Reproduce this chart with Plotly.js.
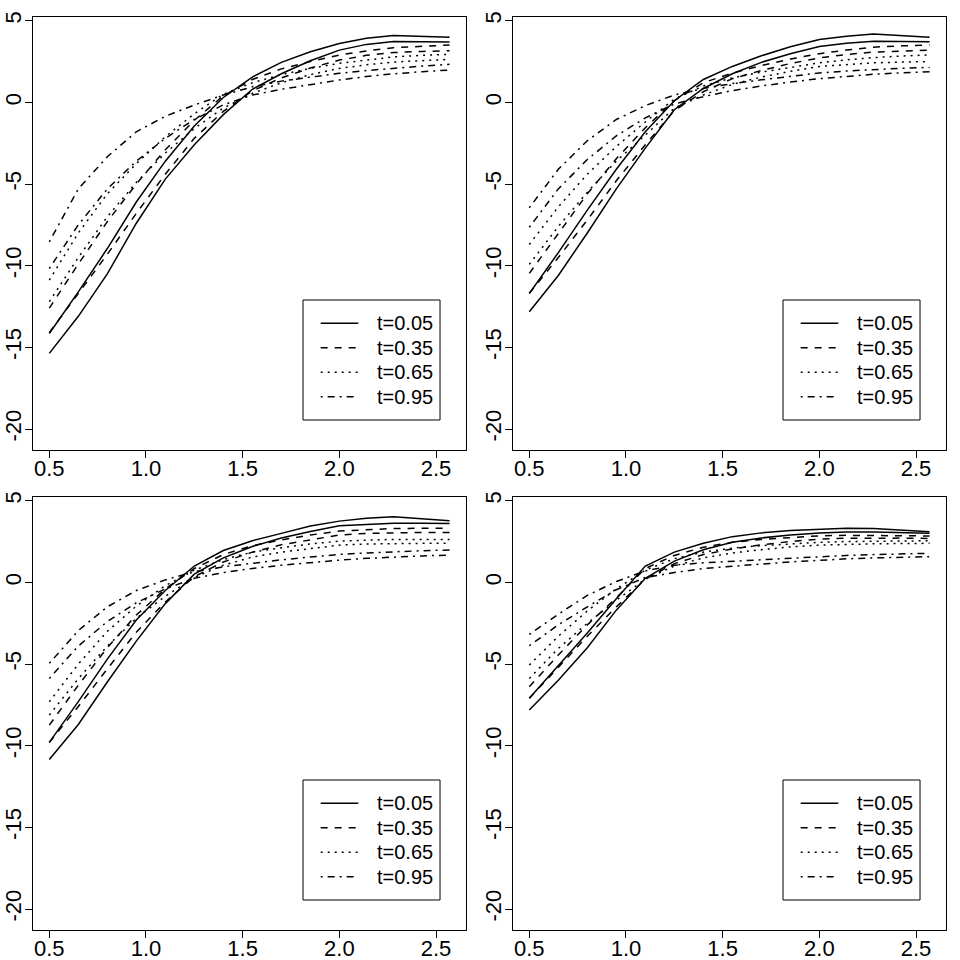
<!DOCTYPE html>
<html>
<head>
<meta charset="utf-8">
<script src="https://cdn.plot.ly/plotly-3.0.1.min.js"></script>
<style>
  body { margin: 0; background: white; }
  #myDiv { width: 960px; height: 960px; }
</style>
</head>
<body>
<div id="myDiv"></div>
<script>
// x grid shared by every curve
var xv = [0.5, 0.65, 0.8, 0.95, 1.1, 1.25, 1.4, 1.55, 1.7, 1.85, 2.0, 2.14, 2.28, 2.43, 2.57];

var tNames = ["t=0.05", "t=0.35", "t=0.65", "t=0.95"];
var xTicks = [0.5, 1.0, 1.5, 2.0, 2.5];
var xTickText = ["0.5", "1.0", "1.5", "2.0", "2.5"];
var yTicks = [-20, -15, -10, -5, 0, 5];
var yTickText = ["-20", "-15", "-10", "-5", "0", "5"];

// panel 1 (top left): a = first fit, b = second fit
var p1a05 = [-14.15, -11.6, -8.95, -6.1, -3.6, -1.45, 0.3, 1.55, 2.45, 3.1, 3.61, 3.93, 4.1, 4.02, 3.98];
var p1b05 = [-15.37, -13.1, -10.5, -7.4, -4.7, -2.6, -0.75, 0.8, 1.75, 2.55, 3.2, 3.55, 3.72, 3.72, 3.69];
var p1a35 = [-12.6, -9.9, -7.3, -5.0, -2.9, -1.1, 0.4, 1.4, 2.05, 2.5, 2.9, 3.15, 3.35, 3.45, 3.51];
var p1b35 = [-14.1, -11.7, -9.3, -6.8, -4.4, -2.2, -0.55, 0.7, 1.5, 2.1, 2.59, 2.88, 3.05, 3.12, 3.16];
var p1a65 = [-10.88, -8.0, -5.6, -3.75, -2.1, -0.7, 0.5, 1.2, 1.7, 2.08, 2.39, 2.6, 2.78, 2.88, 2.94];
var p1b65 = [-12.2, -9.5, -7.0, -4.9, -3.1, -1.6, -0.35, 0.55, 1.2, 1.7, 2.08, 2.3, 2.47, 2.57, 2.63];
var p1a95 = [-8.54, -5.3, -3.33, -1.8, -0.85, -0.16, 0.45, 0.95, 1.3, 1.55, 1.78, 1.95, 2.1, 2.22, 2.33];
var p1b95 = [-10.17, -7.5, -5.3, -3.6, -2.2, -1.05, -0.15, 0.45, 0.8, 1.1, 1.37, 1.58, 1.75, 1.88, 1.98];

// panel 2 (top right)
var p2a05 = [-11.7, -9.2, -6.6, -4.1, -1.8, 0.1, 1.4, 2.2, 2.85, 3.4, 3.85, 4.05, 4.18, 4.08, 3.98];
var p2b05 = [-12.82, -10.6, -8.0, -5.3, -2.8, -0.45, 0.85, 1.75, 2.45, 2.98, 3.42, 3.62, 3.74, 3.73, 3.71];
var p2a35 = [-10.47, -8.0, -5.6, -3.45, -1.55, 0.1, 1.2, 1.8, 2.25, 2.65, 2.98, 3.2, 3.38, 3.46, 3.51];
var p2b35 = [-11.69, -9.5, -7.2, -4.8, -2.6, -0.5, 0.65, 1.45, 1.95, 2.38, 2.72, 2.93, 3.08, 3.16, 3.2];
var p2a65 = [-8.7, -6.4, -4.4, -2.7, -1.2, 0.2, 1.0, 1.5, 1.85, 2.15, 2.42, 2.6, 2.74, 2.84, 2.9];
var p2b65 = [-9.92, -7.6, -5.5, -3.6, -2.0, -0.35, 0.45, 1.1, 1.55, 1.9, 2.2, 2.33, 2.42, 2.47, 2.49];
var p2a95 = [-6.45, -4.1, -2.35, -1.05, -0.2, 0.45, 0.85, 1.15, 1.38, 1.6, 1.8, 1.92, 2.02, 2.09, 2.14];
var p2b95 = [-7.65, -5.3, -3.5, -2.05, -0.95, -0.1, 0.35, 0.72, 1.0, 1.25, 1.45, 1.6, 1.72, 1.81, 1.88];

// panel 3 (bottom left)
var p3a05 = [-9.8, -7.3, -4.7, -2.3, -0.5, 1.0, 1.95, 2.55, 3.0, 3.45, 3.75, 3.92, 4.02, 3.88, 3.77];
var p3b05 = [-10.85, -8.7, -6.1, -3.6, -1.3, 0.5, 1.5, 2.2, 2.72, 3.12, 3.47, 3.56, 3.62, 3.62, 3.61];
var p3a35 = [-8.74, -6.3, -4.0, -2.0, -0.4, 0.85, 1.7, 2.25, 2.6, 2.9, 3.14, 3.24, 3.3, 3.31, 3.31];
var p3b35 = [-9.8, -7.6, -5.3, -3.05, -1.2, 0.35, 1.25, 1.85, 2.3, 2.62, 2.9, 3.0, 3.05, 3.06, 3.06];
var p3a65 = [-7.31, -5.0, -3.0, -1.45, -0.2, 0.75, 1.4, 1.85, 2.12, 2.35, 2.53, 2.6, 2.63, 2.63, 2.63];
var p3b65 = [-8.12, -5.9, -3.9, -2.2, -0.85, 0.3, 1.05, 1.55, 1.85, 2.08, 2.28, 2.35, 2.38, 2.39, 2.39];
var p3a95 = [-4.96, -2.95, -1.5, -0.5, 0.15, 0.65, 0.95, 1.18, 1.38, 1.55, 1.71, 1.8, 1.88, 1.94, 1.98];
var p3b95 = [-5.88, -3.9, -2.4, -1.25, -0.4, 0.25, 0.6, 0.85, 1.05, 1.22, 1.36, 1.47, 1.56, 1.62, 1.67];

// panel 4 (bottom right)
var p4a05 = [-7.1, -5.1, -3.1, -1.0, 1.0, 1.85, 2.4, 2.8, 3.03, 3.17, 3.26, 3.31, 3.3, 3.2, 3.1];
var p4b05 = [-7.82, -6.0, -4.0, -1.7, 0.25, 1.3, 2.0, 2.45, 2.72, 2.9, 3.03, 3.08, 3.08, 3.04, 3.0];
var p4a35 = [-6.39, -4.45, -2.6, -0.95, 0.85, 1.65, 2.15, 2.45, 2.63, 2.76, 2.85, 2.88, 2.88, 2.86, 2.84];
var p4b35 = [-7.1, -5.2, -3.3, -1.5, 0.2, 1.15, 1.7, 2.05, 2.3, 2.5, 2.65, 2.7, 2.72, 2.71, 2.69];
var p4a65 = [-5.06, -3.3, -1.75, -0.4, 0.75, 1.45, 1.85, 2.1, 2.25, 2.37, 2.45, 2.5, 2.53, 2.55, 2.55];
var p4b65 = [-5.88, -4.05, -2.5, -1.1, 0.2, 1.0, 1.5, 1.8, 2.0, 2.17, 2.28, 2.33, 2.36, 2.38, 2.39];
var p4a95 = [-3.19, -1.95, -0.8, 0.05, 0.7, 1.05, 1.2, 1.3, 1.4, 1.5, 1.58, 1.65, 1.7, 1.75, 1.78];
var p4b95 = [-3.88, -2.6, -1.5, -0.45, 0.3, 0.6, 0.85, 1.0, 1.12, 1.25, 1.36, 1.44, 1.5, 1.54, 1.57];

// R style line types: solid, dashed, dotted, dotdash
var dashes = ["solid", "7px,7px", "2px,5px", "2px,5px,7px,5px"];

var panels = [
  [[p1a05, p1b05], [p1a35, p1b35], [p1a65, p1b65], [p1a95, p1b95]],
  [[p2a05, p2b05], [p2a35, p2b35], [p2a65, p2b65], [p2a95, p2b95]],
  [[p3a05, p3b05], [p3a35, p3b35], [p3a65, p3b65], [p3a95, p3b95]],
  [[p4a05, p4b05], [p4a35, p4b35], [p4a65, p4b65], [p4a95, p4b95]]
];

var data = [];
var shapes = [];
var annotations = [];

panels.forEach(function(curves, p) {
  var sfx = p == 0 ? "" : String(p + 1);
  curves.forEach(function(pair, k) {
    pair.forEach(function(yv) {
      data.push({
        x: xv,
        y: yv,
        type: "scatter",
        mode: "lines",
        name: tNames[k],
        xaxis: "x" + sfx,
        yaxis: "y" + sfx,
        showlegend: false,
        hoverinfo: "skip",
        line: { color: "black", width: 1.5, dash: dashes[k] }
      });
    });
  });

  // legend box, drawn like R's legend() in the lower right of each panel
  var xr = "x" + sfx + " domain", yr = "y" + sfx + " domain";
  shapes.push({
    type: "rect", xref: xr, yref: yr,
    x0: 0.6236, x1: 0.94, y0: 0.0693, y1: 0.3464,
    line: { color: "black", width: 1 }, fillcolor: "white", layer: "above"
  });
  tNames.forEach(function(nm, k) {
    var yy = 0.2926 - k * 0.0565;
    shapes.push({
      type: "line", xref: xr, yref: yr,
      x0: 0.6644, x1: 0.7513, y0: yy, y1: yy,
      line: { color: "black", width: 1.5, dash: dashes[k] }, layer: "above"
    });
    annotations.push({
      xref: xr, yref: yr, x: 0.7898, y: yy,
      xanchor: "left", yanchor: "middle", showarrow: false,
      text: nm, font: { size: 20, color: "black" }
    });
  });
});

function xAxis(dom, anchor) {
  return {
    domain: dom, anchor: anchor, range: [0.4157, 2.655],
    showline: true, mirror: true, linecolor: "black", linewidth: 1,
    ticks: "outside", ticklen: 7, tickwidth: 1, tickcolor: "black",
    tickvals: xTicks, ticktext: xTickText, tickfont: { size: 22 },
    ticklabelstandoff: -8,
    showgrid: false, zeroline: false, fixedrange: true
  };
}
function yAxis(dom, anchor) {
  return {
    domain: dom, anchor: anchor, range: [-21.286, 5.227],
    showline: true, mirror: true, linecolor: "black", linewidth: 1,
    ticks: "outside", ticklen: 7, tickwidth: 1, tickcolor: "black",
    tickvals: yTicks, ticktext: yTickText, tickangle: -90, tickfont: { size: 22 },
    ticklabelstandoff: -5,
    showgrid: false, zeroline: false, fixedrange: true
  };
}

var colL = [33 / 960, 466 / 960];
var colR = [513 / 960, 946 / 960];
var rowT = [1 - 450 / 960, 1 - 17 / 960];
var rowB = [1 - 930 / 960, 1 - 497 / 960];

var layout = {
  width: 960, height: 960,
  margin: { l: 0, r: 0, t: 0, b: 0 },
  paper_bgcolor: "white", plot_bgcolor: "white",
  font: { family: "Liberation Sans, Arial, sans-serif", size: 20, color: "black" },
  showlegend: false,
  xaxis: xAxis(colL, "y"), yaxis: yAxis(rowT, "x"),
  xaxis2: xAxis(colR, "y2"), yaxis2: yAxis(rowT, "x2"),
  xaxis3: xAxis(colL, "y3"), yaxis3: yAxis(rowB, "x3"),
  xaxis4: xAxis(colR, "y4"), yaxis4: yAxis(rowB, "x4"),
  shapes: shapes,
  annotations: annotations
};

Plotly.newPlot("myDiv", data, layout, { staticPlot: true });
</script>
</body>
</html>
